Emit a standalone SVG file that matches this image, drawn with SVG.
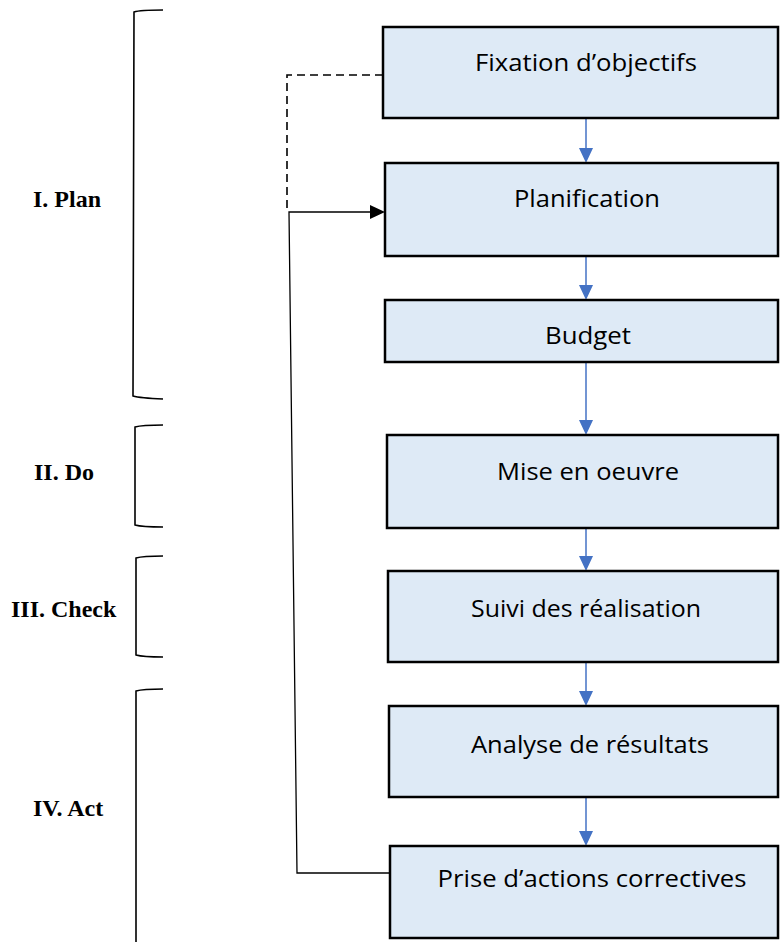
<svg xmlns="http://www.w3.org/2000/svg" width="781" height="943" viewBox="0 0 781 943">
<style>
.box{fill:#DEEAF6;stroke:#000;stroke-width:2.5}
.bt{font-family:"Open Sans","Liberation Sans",sans-serif;font-size:23px;fill:#000;text-anchor:middle}
.lab{font-family:"Liberation Serif",serif;font-weight:bold;font-size:24px;fill:#000}
.br{fill:none;stroke:#000;stroke-width:1.6}
.ba{stroke:#4472C4;stroke-width:1.5;fill:none}
.ah{fill:#4472C4}
</style>
<g id="brackets">
<path class="br" d="M163,10 Q140,10 134,12 L133,396 Q140,398 163,399"/>
<path class="br" d="M163,425 Q142,425 135,427 L135,525 Q142,527 163,527"/>
<path class="br" d="M163,556 Q143,556 136,558 L136,655 Q143,657 163,657"/>
<path class="br" d="M163,689 Q143,689 136,691 L136,942"/>
</g>
<g id="labels">
<text class="lab" x="33" y="207">I. Plan</text>
<text class="lab" x="34" y="480">II. Do</text>
<text class="lab" x="11" y="617">III. Check</text>
<text class="lab" x="33" y="816">IV. Act</text>
</g>
<g id="connectors">
<line class="ba" x1="586" y1="119" x2="586" y2="150"/><path class="ah" d="M579,148 L593,148 L586,163 Z"/>
<line class="ba" x1="586" y1="257" x2="586" y2="287"/><path class="ah" d="M579,285 L593,285 L586,300 Z"/>
<line class="ba" x1="586" y1="363" x2="586" y2="422"/><path class="ah" d="M579,420 L593,420 L586,435 Z"/>
<line class="ba" x1="586" y1="529" x2="586" y2="558"/><path class="ah" d="M579,556 L593,556 L586,571 Z"/>
<line class="ba" x1="586" y1="663" x2="586" y2="693"/><path class="ah" d="M579,691 L593,691 L586,706 Z"/>
<line class="ba" x1="586" y1="798" x2="586" y2="833"/><path class="ah" d="M579,831 L593,831 L586,846 Z"/>
<path d="M383,75 L287,75 L287,212" fill="none" stroke="#000" stroke-width="1.6" stroke-dasharray="8,5"/>
<path d="M390,873 L297,873 L289,212 L371,212" fill="none" stroke="#000" stroke-width="1.3"/>
<path d="M370,205 L385,212 L370,219 Z" fill="#000"/>
</g>
<g id="n1"><rect class="box" x="383" y="27" width="395" height="91"/><text class="bt" x="586" y="71" textLength="222" lengthAdjust="spacingAndGlyphs">Fixation d’objectifs</text></g>
<g id="n2"><rect class="box" x="385" y="163" width="393" height="93"/><text class="bt" x="587" y="207" textLength="146" lengthAdjust="spacingAndGlyphs">Planification</text></g>
<g id="n3"><rect class="box" x="385" y="300" width="393" height="62"/><text class="bt" x="588" y="344" textLength="86" lengthAdjust="spacingAndGlyphs">Budget</text></g>
<g id="n4"><rect class="box" x="387" y="435" width="391" height="93"/><text class="bt" x="588" y="480" textLength="182" lengthAdjust="spacingAndGlyphs">Mise en oeuvre</text></g>
<g id="n5"><rect class="box" x="388" y="571" width="390" height="91"/><text class="bt" x="586" y="617" textLength="230" lengthAdjust="spacingAndGlyphs">Suivi des réalisation</text></g>
<g id="n6"><rect class="box" x="389" y="706" width="389" height="91"/><text class="bt" x="590" y="753" textLength="238" lengthAdjust="spacingAndGlyphs">Analyse de résultats</text></g>
<g id="n7"><rect class="box" x="390" y="846" width="388" height="92"/><text class="bt" x="592" y="887" textLength="309" lengthAdjust="spacingAndGlyphs">Prise d’actions correctives</text></g>
</svg>
